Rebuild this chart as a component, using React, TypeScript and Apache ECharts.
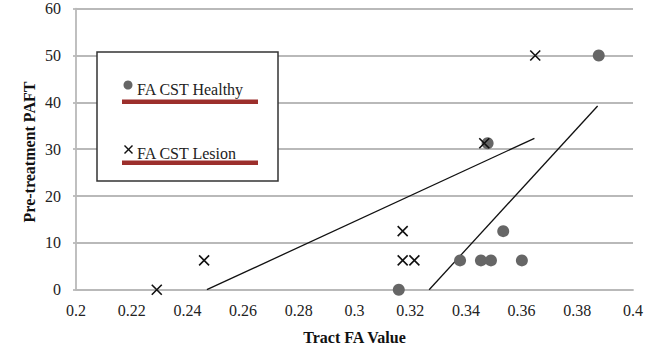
import React, { useEffect, useRef } from "react";
import * as echarts from "echarts";

// FA of the corticospinal tract vs. pre-treatment PAFT
const healthyFA = [0.3877, 0.3478, 0.3534, 0.3379, 0.3454, 0.349, 0.3601, 0.3159];
const healthyPAFT = [50, 31.25, 12.5, 6.25, 6.25, 6.25, 6.25, 0];

const lesionFA = [0.3649, 0.3466, 0.3173, 0.3173, 0.3215, 0.246, 0.229];
const lesionPAFT = [50, 31.25, 12.5, 6.25, 6.25, 6.25, 0];

// linear trend lines (end points)
const healthyTrendFA = [0.3268, 0.3873];
const healthyTrendPAFT = [0, 39.2];
const lesionTrendFA = [0.247, 0.3646];
const lesionTrendPAFT = [0, 32.3];

const seriesNames = ["FA CST Healthy", "FA CST Lesion"];
const xTitle = "Tract FA Value";
const yTitle = "Pre-treatment PAFT";

const FONT = "'Liberation Serif', 'Times New Roman', serif";
const GRID_COLOR = "#b9b9b9";
const UNDERLINE = "#9c2f2c";

const zip = (xs: number[], ys: number[]) => xs.map((x, i) => [x, ys[i]]);

export default function App() {
  const ref = useRef<HTMLDivElement>(null);

  useEffect(() => {
    if (!ref.current) return;
    const chart = echarts.init(ref.current, undefined, { renderer: "svg" });

    const crossPath = "path://M0,0L10,10M10,0L0,10";
    const LZ = 100;

    chart.setOption({
      animation: false,
      backgroundColor: "#ffffff",
      grid: {
        left: 76,
        right: 23,
        top: 8.6,
        bottom: 58.3,
        containLabel: false,
        outerBoundsMode: "none",
      },
      xAxis: {
        type: "value",
        min: 0.2,
        max: 0.4,
        interval: 0.02,
        name: xTitle,
        nameLocation: "middle",
        nameGap: 40,
        nameTextStyle: {
          fontFamily: FONT,
          fontSize: 16,
          fontWeight: "bold",
          color: "#111",
        },
        axisLine: { show: true, lineStyle: { color: GRID_COLOR, width: 1.8 } },
        axisTick: { show: false },
        splitLine: { show: false },
        axisLabel: {
          margin: 13,
          fontFamily: FONT,
          fontSize: 16,
          color: "#222",
          formatter: (v: number) => String(+v.toFixed(2)),
        },
      },
      yAxis: {
        type: "value",
        min: 0,
        max: 60,
        interval: 10,
        axisLine: { show: true, lineStyle: { color: GRID_COLOR, width: 1.8 } },
        axisTick: { show: true, length: 3, lineStyle: { color: GRID_COLOR, width: 1.8 } },
        splitLine: { show: true, lineStyle: { color: GRID_COLOR, width: 1.8 } },
        axisLabel: {
          margin: 15,
          fontFamily: FONT,
          fontSize: 16,
          color: "#222",
        },
      },
      series: [
        {
          name: seriesNames[0],
          type: "scatter",
          data: zip(healthyFA, healthyPAFT),
          symbol: "circle",
          symbolSize: 12,
          itemStyle: { color: "#666666", opacity: 1 },
          z: 3,
        },
        {
          name: seriesNames[1],
          type: "scatter",
          data: zip(lesionFA, lesionPAFT),
          symbol: crossPath,
          symbolSize: 10,
          itemStyle: {
            color: "transparent",
            borderColor: "#111",
            borderWidth: 1.6,
            opacity: 1,
          },
          z: 4,
        },
        {
          type: "line",
          data: zip(healthyTrendFA, healthyTrendPAFT),
          symbol: "none",
          lineStyle: { color: "#111", width: 1.3 },
          silent: true,
          z: 2,
        },
        {
          type: "line",
          data: zip(lesionTrendFA, lesionTrendPAFT),
          symbol: "none",
          lineStyle: { color: "#111", width: 1.3 },
          silent: true,
          z: 2,
        },
      ],
      graphic: [
        // y-axis title
        {
          type: "text",
          x: 29,
          y: 152,
          rotation: Math.PI / 2,
          z: LZ,
          style: {
            text: yTitle,
            fontFamily: FONT,
            fontSize: 16,
            fontWeight: "bold",
            fill: "#111",
            align: "center",
            verticalAlign: "middle",
          },
        },
        // legend box
        {
          type: "rect",
          z: LZ,
          shape: { x: 97, y: 52, width: 181, height: 129 },
          style: { fill: "#ffffff", stroke: "#333", lineWidth: 1.5 },
        },
        {
          type: "circle",
          z: LZ + 1,
          shape: { cx: 128, cy: 85, r: 4.5 },
          style: { fill: "#666666" },
        },
        {
          type: "text",
          z: LZ + 1,
          x: 137,
          y: 89,
          style: {
            text: seriesNames[0],
            fontFamily: FONT,
            fontSize: 16,
            fill: "#222",
            verticalAlign: "middle",
          },
        },
        {
          type: "rect",
          z: LZ + 1,
          shape: { x: 122, y: 99.5, width: 136, height: 4.5 },
          style: { fill: UNDERLINE },
        },
        {
          type: "line",
          z: LZ + 1,
          shape: { x1: 124.5, y1: 145.5, x2: 132.5, y2: 153.5 },
          style: { stroke: "#111", lineWidth: 1.5 },
        },
        {
          type: "line",
          z: LZ + 1,
          shape: { x1: 132.5, y1: 145.5, x2: 124.5, y2: 153.5 },
          style: { stroke: "#111", lineWidth: 1.5 },
        },
        {
          type: "text",
          z: LZ + 1,
          x: 137,
          y: 153,
          style: {
            text: seriesNames[1],
            fontFamily: FONT,
            fontSize: 16,
            fill: "#222",
            verticalAlign: "middle",
          },
        },
        {
          type: "rect",
          z: LZ + 1,
          shape: { x: 122, y: 160.5, width: 136, height: 4.5 },
          style: { fill: UNDERLINE },
        },
      ],
    });

    return () => chart.dispose();
  }, []);

  return (
    <div
      ref={ref}
      style={{ position: "fixed", left: 0, top: 0, width: 656, height: 348, background: "#fff" }}
    />
  );
}
